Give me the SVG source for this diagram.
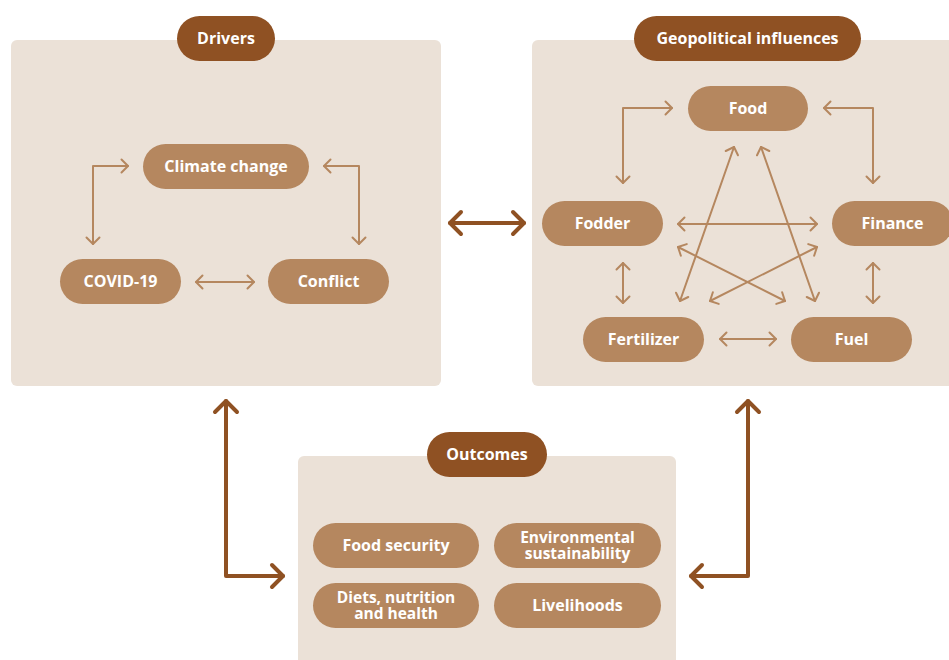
<svg xmlns="http://www.w3.org/2000/svg" width="949" height="660" viewBox="0 0 949 660">
<defs>
<style>
.panel{fill:#ebe1d7}
.pill{fill:#b5875f}
.head{fill:#8f5123}
.t{font-family:"Open Sans","Liberation Sans",Arial,sans-serif;font-weight:700;font-size:16px;fill:#ffffff;text-anchor:middle}
.t2{font-size:15.5px}
.c{fill:none;stroke:#b5875f;stroke-width:2;stroke-linecap:round;stroke-linejoin:round}
.C{fill:none;stroke:#8f5123;stroke-width:4;stroke-linecap:round;stroke-linejoin:round}
</style>
<marker id="a" markerUnits="userSpaceOnUse" markerWidth="20" markerHeight="20" viewBox="-10 -10 20 20" refX="0" refY="0" orient="auto-start-reverse">
<path d="M-6.5,-6.5 L0,0 L-6.5,6.5" fill="none" stroke="#b5875f" stroke-width="2" stroke-linecap="round" stroke-linejoin="round"/>
</marker>
<marker id="A" markerUnits="userSpaceOnUse" markerWidth="32" markerHeight="32" viewBox="-16 -16 32 32" refX="0" refY="0" orient="auto-start-reverse">
<path d="M-11,-11 L0,0 L-11,11" fill="none" stroke="#8f5123" stroke-width="4" stroke-linecap="round" stroke-linejoin="round"/>
</marker>
</defs>
<rect width="949" height="660" fill="#ffffff"/>

<g id="drivers-panel">
<rect class="panel" x="11" y="40" width="430" height="346" rx="6"/>
</g>
<g id="geo-panel">
<rect class="panel" x="532" y="40" width="430" height="346" rx="6"/>
</g>
<g id="outcomes-panel">
<rect class="panel" x="298" y="456" width="378" height="220" rx="6"/>
</g>

<g id="connectors">
<path class="c" d="M93,244 V166 H128" marker-start="url(#a)" marker-end="url(#a)"/>
<path class="c" d="M324,166 H359 V244" marker-start="url(#a)" marker-end="url(#a)"/>
<path class="c" d="M196,282 H254" marker-start="url(#a)" marker-end="url(#a)"/>

<path class="c" d="M623,183 V108 H672" marker-start="url(#a)" marker-end="url(#a)"/>
<path class="c" d="M824,108 H873 V183" marker-start="url(#a)" marker-end="url(#a)"/>
<path class="c" d="M678,224 H817" marker-start="url(#a)" marker-end="url(#a)"/>
<path class="c" d="M623,263 V303" marker-start="url(#a)" marker-end="url(#a)"/>
<path class="c" d="M873,263 V303" marker-start="url(#a)" marker-end="url(#a)"/>
<path class="c" d="M720,339 H776" marker-start="url(#a)" marker-end="url(#a)"/>
<path class="c" d="M734,147 L680,301" marker-start="url(#a)" marker-end="url(#a)"/>
<path class="c" d="M761,147 L815,301" marker-start="url(#a)" marker-end="url(#a)"/>
<path class="c" d="M678,247 L785,301" marker-start="url(#a)" marker-end="url(#a)"/>
<path class="c" d="M817,247 L710,301" marker-start="url(#a)" marker-end="url(#a)"/>

<path class="C" d="M450,223 H524" marker-start="url(#A)" marker-end="url(#A)"/>
<path class="C" d="M226,401 V576 H283" marker-start="url(#A)" marker-end="url(#A)"/>
<path class="C" d="M748,401 V576 H691" marker-start="url(#A)" marker-end="url(#A)"/>
</g>

<g id="drivers">
<rect class="head" x="177" y="16" width="98" height="45" rx="22.5"/>
<text class="t" x="226" y="44">Drivers</text>
</g>
<g id="climate-change">
<rect class="pill" x="143" y="144" width="166" height="45" rx="22.5"/>
<text class="t" x="226" y="172">Climate change</text>
</g>
<g id="covid-19">
<rect class="pill" x="60" y="259" width="121" height="45" rx="22.5"/>
<text class="t" x="120.5" y="287">COVID-19</text>
</g>
<g id="conflict">
<rect class="pill" x="268" y="259" width="121" height="45" rx="22.5"/>
<text class="t" x="328.5" y="287">Conflict</text>
</g>

<g id="geopolitical-influences">
<rect class="head" x="634" y="16" width="227" height="45" rx="22.5"/>
<text class="t" x="747.5" y="44">Geopolitical influences</text>
</g>
<g id="food">
<rect class="pill" x="688" y="86" width="120" height="45" rx="22.5"/>
<text class="t" x="748" y="114">Food</text>
</g>
<g id="fodder">
<rect class="pill" x="542" y="201" width="121" height="45" rx="22.5"/>
<text class="t" x="602.5" y="229">Fodder</text>
</g>
<g id="finance">
<rect class="pill" x="832" y="201" width="121" height="45" rx="22.5"/>
<text class="t" x="892.5" y="229">Finance</text>
</g>
<g id="fertilizer">
<rect class="pill" x="583" y="317" width="121" height="45" rx="22.5"/>
<text class="t" x="643.5" y="345">Fertilizer</text>
</g>
<g id="fuel">
<rect class="pill" x="791" y="317" width="121" height="45" rx="22.5"/>
<text class="t" x="851.5" y="345">Fuel</text>
</g>

<g id="outcomes">
<rect class="head" x="427" y="432" width="120" height="45" rx="22.5"/>
<text class="t" x="487" y="460">Outcomes</text>
</g>
<g id="food-security">
<rect class="pill" x="313" y="523" width="166" height="45" rx="22.5"/>
<text class="t" x="396" y="551">Food security</text>
</g>
<g id="environmental-sustainability">
<rect class="pill" x="494" y="523" width="167" height="45" rx="22.5"/>
<text class="t t2" x="577.5" y="543">Environmental<tspan x="577.5" dy="16">sustainability</tspan></text>
</g>
<g id="diets-nutrition-health">
<rect class="pill" x="313" y="583" width="166" height="45" rx="22.5"/>
<text class="t t2" x="396" y="603">Diets, nutrition<tspan x="396" dy="16">and health</tspan></text>
</g>
<g id="livelihoods">
<rect class="pill" x="494" y="583" width="167" height="45" rx="22.5"/>
<text class="t" x="577.5" y="611">Livelihoods</text>
</g>
</svg>
